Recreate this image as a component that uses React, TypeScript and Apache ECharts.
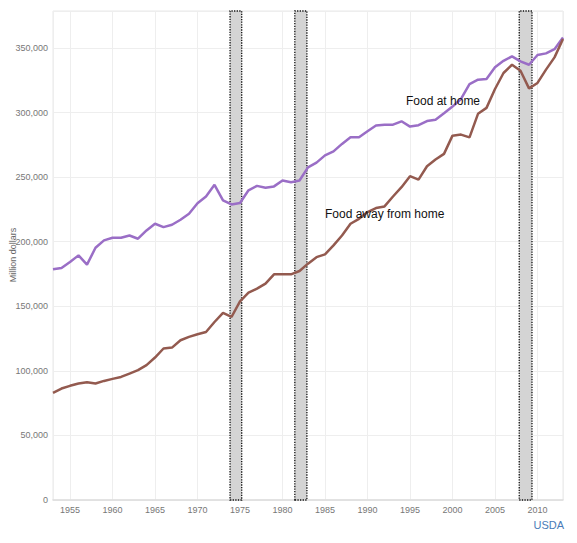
import React, { useEffect, useRef } from "react";
import * as echarts from "echarts";

const years = [
  1953, 1954, 1955, 1956, 1957, 1958, 1959, 1960, 1961, 1962, 1963, 1964, 1965,
  1966, 1967, 1968, 1969, 1970, 1971, 1972, 1973, 1974, 1975, 1976, 1977, 1978,
  1979, 1980, 1981, 1982, 1983, 1984, 1985, 1986, 1987, 1988, 1989, 1990, 1991,
  1992, 1993, 1994, 1995, 1996, 1997, 1998, 1999, 2000, 2001, 2002, 2003, 2004,
  2005, 2006, 2007, 2008, 2009, 2010, 2011, 2012, 2013,
];

// Million dollars
const foodAtHome = [
  178600, 179600, 184200, 189400, 182200, 195300, 201000, 203000, 203000, 204800,
  202300, 208700, 213900, 211300, 213100, 217000, 221600, 229800, 235000, 244000,
  232000, 228800, 230000, 239800, 243200, 241700, 242800, 247400, 246000, 247400,
  257500, 261200, 266800, 269900, 275700, 280800, 280800, 285500, 289900, 290600,
  290600, 293200, 289100, 290200, 293400, 294400, 299400, 304600, 310500, 322000,
  325400, 326000, 335000, 340000, 343500, 339600, 337000, 344500, 345800, 349000,
  358000,
];

const foodAwayFromHome = [
  83000, 86300, 88400, 90200, 91200, 90200, 92200, 93800, 95300, 97900, 100500,
  104400, 110300, 117300, 118000, 123700, 126300, 128300, 130100, 137800, 144800,
  141700, 153800, 160600, 163600, 167500, 174700, 174700, 174700, 177300, 183000,
  188000, 190200, 197100, 204800, 213900, 217700, 222900, 226000, 227300, 235000,
  242200, 250700, 248100, 258400, 263600, 268000, 282100, 282900, 280800, 299000,
  303600, 318200, 330600, 337000, 332400, 318700, 322900, 333200, 342700, 357000,
];

// Recession periods (fractional years)
const recessions: [number, number][] = [
  [1973.83, 1975.2],
  [1981.45, 1982.87],
  [2007.85, 2009.35],
];

const seriesNames = ["Food at home", "Food away from home"];
const sourceLabel = "USDA";
const yAxisName = "Million dollars";

export default function App() {
  const ref = useRef<HTMLDivElement>(null);

  useEffect(() => {
    if (!ref.current) return;
    const chart = echarts.init(ref.current, undefined, { renderer: "svg" });
    const font = "Liberation Sans, Arial, Helvetica, sans-serif";
    const option: any = {
      animation: false,
      backgroundColor: "#ffffff",
      textStyle: { fontFamily: font },
      grid: {
        left: 53,
        top: 11,
        right: 14,
        bottom: 43,
        show: true,
        borderColor: "#e8e8e8",
        borderWidth: 1,
        containLabel: false,
        outerBoundsMode: "none",
      },
      xAxis: {
        type: "value",
        min: 1953,
        max: 2013,
        splitNumber: 12,
        axisLine: { show: true, lineStyle: { color: "#dddddd", width: 1.5 } },
        axisTick: { show: false },
        axisLabel: {
          color: "#777777",
          fontSize: 9,
          margin: 5,
          fontFamily: font,
          showMinLabel: false,
          showMaxLabel: false,
          formatter: (v: number) => String(v),
        },
        splitLine: { show: true, lineStyle: { color: "#eeeeee", width: 1 } },
      },
      yAxis: {
        type: "value",
        min: 0,
        max: 378600,
        interval: 50000,
        axisLine: { show: false },
        axisTick: { show: false },
        axisLabel: {
          color: "#777777",
          fontSize: 9,
          margin: 5,
          fontFamily: font,
          showMaxLabel: false,
          formatter: (v: number) => v.toLocaleString("en-US"),
        },
        splitLine: { show: true, lineStyle: { color: "#eeeeee", width: 1 } },
      },
      series: [
        {
          type: "line",
          name: "recessions",
          data: [],
          z: 1,
          markArea: {
            silent: true,
            itemStyle: {
              color: "#d4d4d4",
              borderColor: "#111111",
              borderWidth: 1.3,
              borderType: [1.3, 1.3],
            },
            data: recessions.map(([a, b]) => [{ xAxis: a }, { xAxis: b }]),
          },
        },
        {
          type: "line",
          name: seriesNames[0],
          data: years.map((y, i) => [y, foodAtHome[i]]),
          showSymbol: false,
          z: 5,
          lineStyle: { color: "#9a6ec6", width: 2.5 },
          itemStyle: { color: "#9a6ec6" },
        },
        {
          type: "line",
          name: seriesNames[1],
          data: years.map((y, i) => [y, foodAwayFromHome[i]]),
          showSymbol: false,
          z: 5,
          lineStyle: { color: "#935a4f", width: 2.5 },
          itemStyle: { color: "#935a4f" },
        },
      ],
      graphic: [
        {
          type: "text",
          x: 13,
          y: 255,
          rotation: Math.PI / 2,
          z: 10,
          style: {
            text: yAxisName,
            fill: "#666666",
            font: `9px ${font}`,
            align: "center",
            verticalAlign: "middle",
          },
        },
        {
          type: "text",
          left: 406,
          top: 95,
          z: 10,
          style: {
            text: seriesNames[0],
            fill: "#111111",
            font: `12px ${font}`,
          },
        },
        {
          type: "text",
          left: 325,
          top: 208,
          z: 10,
          style: {
            text: seriesNames[1],
            fill: "#111111",
            font: `12px ${font}`,
          },
        },
        {
          type: "text",
          right: 13,
          top: 519,
          z: 10,
          style: {
            text: sourceLabel,
            fill: "#4a7cb8",
            font: `11px ${font}`,
          },
        },
      ],
    };
    chart.setOption(option);
    return () => chart.dispose();
  }, []);

  return (
    <div
      ref={ref}
      style={{ position: "absolute", left: 0, top: 0, width: 577, height: 543 }}
    />
  );
}
